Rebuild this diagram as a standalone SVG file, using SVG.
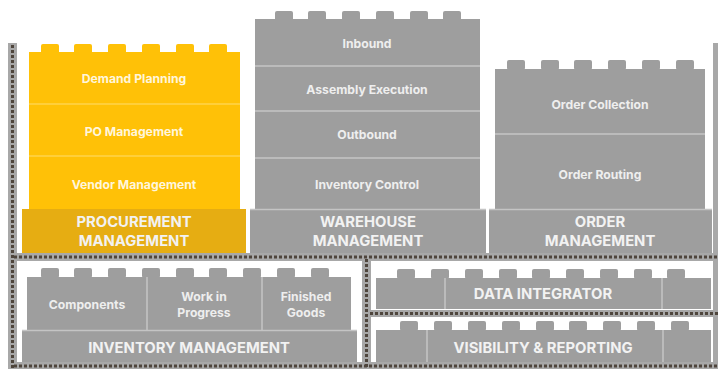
<svg xmlns="http://www.w3.org/2000/svg" width="718" height="369" viewBox="0 0 718 369">
<style>
.g{fill:#9e9e9e}
.y{fill:#ffc107}
.yb{fill:#e6ad12}
.stud{rx:2}
.dg{stroke:#c4c4c4;stroke-width:1.5}
.dy{stroke:#ffd34d;stroke-width:1.5}
.t{font-family:Inter,"Noto Sans","Liberation Sans",sans-serif;font-weight:700;font-size:12.2px;fill:#eeeeee;text-anchor:middle}
.ty{fill:#fff6dc}
.h{font-family:Inter,"Noto Sans","Liberation Sans",sans-serif;font-weight:700;font-size:14.8px;fill:#f2f2f2;text-anchor:middle}
.bar{fill:#a8a8a8}
.dot{stroke:#4e453c;stroke-width:3;stroke-dasharray:3 2;fill:none}
</style>
<rect width="718" height="369" fill="#ffffff"/>
<g id="frame">
<rect class="bar" x="8" y="43" width="9" height="326"/>
<rect class="bar" x="713" y="43" width="5" height="326"/>
<rect class="bar" x="8" y="253" width="710" height="8"/>
<rect class="bar" x="362" y="257" width="9" height="112"/>
<rect class="bar" x="366" y="310" width="352" height="7"/>
<rect class="bar" x="8" y="362" width="710" height="7"/>
<line class="dot" x1="12.5" y1="45" x2="12.5" y2="369"/>
<line class="dot" x1="14" y1="257" x2="718" y2="257"/>
<line class="dot" x1="366.5" y1="259" x2="366.5" y2="369"/>
<line class="dot" x1="370" y1="313.5" x2="718" y2="313.5"/>
<line class="dot" x1="14" y1="366" x2="718" y2="366"/>
</g>
<g id="procurement">
<g class="y">
<rect class="stud" x="41" y="44" width="18" height="10"/>
<rect class="stud" x="74" y="44" width="18" height="10"/>
<rect class="stud" x="108" y="44" width="18" height="10"/>
<rect class="stud" x="142" y="44" width="18" height="10"/>
<rect class="stud" x="176" y="44" width="18" height="10"/>
<rect class="stud" x="209" y="44" width="18" height="10"/>
<rect x="29" y="52" width="211" height="158"/>
</g>
<line class="dy" x1="29" y1="104" x2="240" y2="104"/>
<line class="dy" x1="29" y1="156" x2="240" y2="156"/>
<rect class="yb" x="22" y="209" width="224" height="44"/>
<text class="t ty" x="134" y="82.5">Demand Planning</text>
<text class="t ty" x="134" y="135.5">PO Management</text>
<text class="t ty" x="134" y="188.5">Vendor Management</text>
<text class="h" x="134" y="227">PROCUREMENT</text>
<text class="h" x="134" y="245.5">MANAGEMENT</text>
</g>
<g id="warehouse">
<g class="g">
<rect class="stud" x="275" y="11" width="18" height="10"/>
<rect class="stud" x="308" y="11" width="18" height="10"/>
<rect class="stud" x="342" y="11" width="18" height="10"/>
<rect class="stud" x="376" y="11" width="18" height="10"/>
<rect class="stud" x="410" y="11" width="18" height="10"/>
<rect class="stud" x="443" y="11" width="18" height="10"/>
<rect x="255" y="19" width="225" height="191"/>
<rect x="250" y="209" width="236" height="44"/>
</g>
<line class="dg" x1="255" y1="66" x2="480" y2="66"/>
<line class="dg" x1="255" y1="111" x2="480" y2="111"/>
<line class="dg" x1="255" y1="158" x2="480" y2="158"/>
<line class="dg" x1="250" y1="209.5" x2="486" y2="209.5"/>
<text class="t" x="367" y="47.5">Inbound</text>
<text class="t" x="367" y="93.5">Assembly Execution</text>
<text class="t" x="367" y="138.5">Outbound</text>
<text class="t" x="367" y="188.5">Inventory Control</text>
<text class="h" x="368" y="227">WAREHOUSE</text>
<text class="h" x="368" y="245.5">MANAGEMENT</text>
</g>
<g id="order">
<g class="g">
<rect class="stud" x="507" y="60" width="18" height="10"/>
<rect class="stud" x="541" y="60" width="18" height="10"/>
<rect class="stud" x="574" y="60" width="18" height="10"/>
<rect class="stud" x="608" y="60" width="18" height="10"/>
<rect class="stud" x="642" y="60" width="18" height="10"/>
<rect class="stud" x="676" y="60" width="18" height="10"/>
<rect x="495" y="69" width="210" height="141"/>
<rect x="489" y="209" width="223" height="44"/>
</g>
<line class="dg" x1="495" y1="134" x2="705" y2="134"/>
<line class="dg" x1="489" y1="209.5" x2="712" y2="209.5"/>
<text class="t" x="600" y="108.5">Order Collection</text>
<text class="t" x="600" y="178.5">Order Routing</text>
<text class="h" x="600" y="227">ORDER</text>
<text class="h" x="600" y="245.5">MANAGEMENT</text>
</g>
<g id="inventory">
<g class="g">
<rect class="stud" x="41" y="268" width="18" height="10"/>
<rect class="stud" x="74" y="268" width="18" height="10"/>
<rect class="stud" x="108" y="268" width="18" height="10"/>
<rect class="stud" x="142" y="268" width="18" height="10"/>
<rect class="stud" x="176" y="268" width="18" height="10"/>
<rect class="stud" x="209" y="268" width="18" height="10"/>
<rect class="stud" x="243" y="268" width="18" height="10"/>
<rect class="stud" x="277" y="268" width="18" height="10"/>
<rect class="stud" x="311" y="268" width="18" height="10"/>
<rect x="27" y="277" width="324" height="54"/>
<rect x="22" y="330" width="335" height="32"/>
</g>
<line class="dg" x1="147" y1="277" x2="147" y2="330"/>
<line class="dg" x1="262" y1="277" x2="262" y2="330"/>
<line class="dg" x1="22" y1="330.5" x2="357" y2="330.5"/>
<text class="t" x="87" y="308.5">Components</text>
<text class="t" x="204" y="300.5">Work in</text>
<text class="t" x="204" y="316.5">Progress</text>
<text class="t" x="306" y="300.5">Finished</text>
<text class="t" x="306" y="316.5">Goods</text>
<text class="h" x="189" y="352.5">INVENTORY MANAGEMENT</text>
</g>
<g id="data-integrator">
<g class="g">
<rect class="stud" x="397" y="269" width="18" height="10"/>
<rect class="stud" x="431" y="269" width="18" height="10"/>
<rect class="stud" x="465" y="269" width="18" height="10"/>
<rect class="stud" x="499" y="269" width="18" height="10"/>
<rect class="stud" x="532" y="269" width="18" height="10"/>
<rect class="stud" x="566" y="269" width="18" height="10"/>
<rect class="stud" x="600" y="269" width="18" height="10"/>
<rect class="stud" x="634" y="269" width="18" height="10"/>
<rect class="stud" x="667" y="269" width="18" height="10"/>
<rect x="376" y="278" width="335" height="31"/>
</g>
<line class="dg" x1="445" y1="278" x2="445" y2="309"/>
<line class="dg" x1="662" y1="278" x2="662" y2="309"/>
<text class="h" x="543" y="298.5">DATA INTEGRATOR</text>
</g>
<g id="visibility-reporting">
<g class="g">
<rect class="stud" x="400" y="321" width="18" height="10"/>
<rect class="stud" x="434" y="321" width="18" height="10"/>
<rect class="stud" x="468" y="321" width="18" height="10"/>
<rect class="stud" x="502" y="321" width="18" height="10"/>
<rect class="stud" x="536" y="321" width="18" height="10"/>
<rect class="stud" x="569" y="321" width="18" height="10"/>
<rect class="stud" x="603" y="321" width="18" height="10"/>
<rect class="stud" x="637" y="321" width="18" height="10"/>
<rect class="stud" x="671" y="321" width="18" height="10"/>
<rect x="376" y="330" width="335" height="32"/>
</g>
<line class="dg" x1="427" y1="330" x2="427" y2="362"/>
<line class="dg" x1="663" y1="330" x2="663" y2="362"/>
<text class="h" x="543" y="352.5">VISIBILITY &amp; REPORTING</text>
</g>
<g id="connectors"/>
</svg>
